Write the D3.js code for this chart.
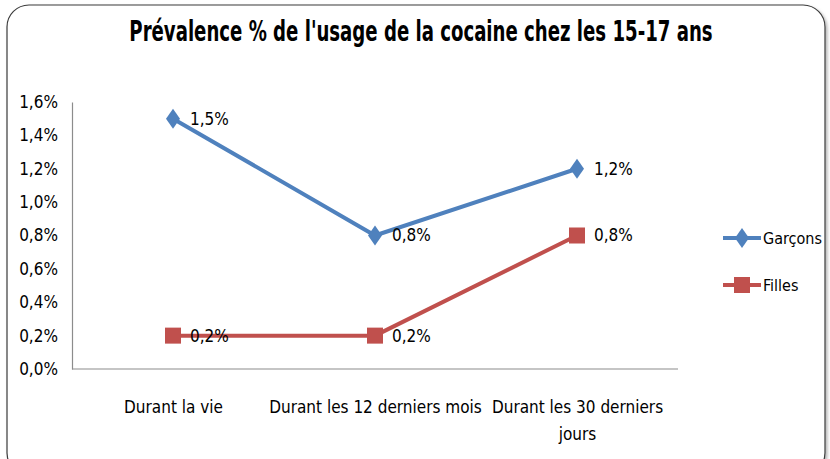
<!DOCTYPE html>
<html>
<head>
<meta charset="utf-8">
<script src="https://cdn.jsdelivr.net/npm/d3@7"></script>
<style>
  body { margin: 0; background: #fff; }
  svg text { font-family: "DejaVu Sans", sans-serif; font-stretch: condensed; fill: #000; }
</style>
</head>
<body>
<div id="chart"></div>
<script>
// Daten
const categories = ["Durant la vie", "Durant les 12 derniers mois", "Durant les 30 derniers jours"];
const garcons = [1.5, 0.8, 1.2];
const filles = [0.2, 0.2, 0.8];
const yTicks = [0, 0.2, 0.4, 0.6, 0.8, 1.0, 1.2, 1.4, 1.6];
const seriesNames = ["Garçons", "Filles"];

const width = 830, height = 459;
const margin = { top: 102, right: 152, bottom: 90, left: 72 };
const innerWidth = width - margin.left - margin.right;
const innerHeight = height - margin.top - margin.bottom;

const fmt = v => v.toFixed(1).replace(".", ",") + "%";

const svg = d3.select("#chart").append("svg")
  .attr("width", width)
  .attr("height", height);

// Rahmen mit Schatten
const defs = svg.append("defs");
const f = defs.append("filter").attr("id", "shadow").attr("x", "-5%").attr("y", "-5%").attr("width", "110%").attr("height", "110%");
f.append("feDropShadow").attr("dx", 2).attr("dy", 2).attr("stdDeviation", 1.5).attr("flood-color", "#888").attr("flood-opacity", 0.6);

svg.append("rect")
  .attr("x", 7).attr("y", 5)
  .attr("width", 818).attr("height", 470)
  .attr("rx", 22).attr("ry", 22)
  .attr("fill", "#fff")
  .attr("stroke", "#3a3a3a")
  .attr("stroke-width", 1.2)
  .attr("filter", "url(#shadow)");

// Titel (schmal gestaucht wie im Original)
svg.append("g")
  .attr("transform", "translate(421,41) scale(0.72,1)")
  .append("text")
    .attr("text-anchor", "middle")
    .style("font-size", "28px")
    .style("font-weight", "bold")
    .text("Prévalence % de l'usage de la cocaine chez les 15-17 ans");

const g = svg.append("g").attr("transform", `translate(${margin.left},${margin.top})`);

const x = d3.scalePoint().domain(categories).range([0, innerWidth]).padding(0.5);
const y = d3.scaleLinear().domain([0, 1.6]).range([innerHeight, 0]);

// Achsen
const yAxis = d3.axisLeft(y).tickValues(yTicks).tickFormat(fmt).tickSize(0).tickPadding(14);
const yg = g.append("g").call(yAxis);
yg.select(".domain").attr("stroke", "#8c8c8c").attr("stroke-width", 1.2);
yg.selectAll("text").style("font-size", "17px").attr("fill", "#000");

const xAxis = d3.axisBottom(x).tickSize(0).tickPadding(32);
const xg = g.append("g").attr("transform", `translate(0,${innerHeight})`).call(xAxis);
xg.select(".domain").attr("stroke", "#8c8c8c").attr("stroke-width", 1.2).attr("d", `M0,0H${innerWidth}`);
xg.selectAll("text").style("font-size", "17px").attr("fill", "#000")
  .each(function (d) {
    if (d === "Durant les 30 derniers jours") {
      const t = d3.select(this);
      t.text(null);
      t.append("tspan").attr("x", 0).text("Durant les 30 derniers");
      t.append("tspan").attr("x", 0).attr("dy", "1.6em").text("jours");
    }
  });

const series = [
  { name: seriesNames[0], values: garcons, color: "#4F81BD", shape: "diamond" },
  { name: seriesNames[1], values: filles, color: "#C0504D", shape: "square" }
];

const line = d3.line().x((d, i) => x(categories[i])).y(d => y(d));

function marker(sel, s) {
  if (s.shape === "diamond") {
    sel.append("path").attr("d", "M0,-10L7,0L0,10L-7,0Z").attr("fill", s.color);
  } else {
    sel.append("rect").attr("x", -8).attr("y", -8).attr("width", 16).attr("height", 16).attr("fill", s.color);
  }
}

series.forEach(s => {
  g.append("path")
    .datum(s.values)
    .attr("d", line)
    .attr("fill", "none")
    .attr("stroke", s.color)
    .attr("stroke-width", 4);

  s.values.forEach((v, i) => {
    const p = g.append("g").attr("transform", `translate(${x(categories[i])},${y(v)})`);
    marker(p, s);
    p.append("text")
      .attr("x", 17).attr("dy", "0.35em")
      .style("font-size", "17px")
      .text(fmt(v));
  });
});

// Legende
const legend = svg.append("g").attr("transform", "translate(723,238)");
series.forEach((s, i) => {
  const lg = legend.append("g").attr("transform", `translate(0,${i * 47})`);
  lg.append("line").attr("x1", 0).attr("x2", 38).attr("stroke", s.color).attr("stroke-width", 4);
  const m = lg.append("g").attr("transform", "translate(19,0)");
  marker(m, s);
  lg.append("text").attr("x", 40).attr("dy", "0.35em").style("font-size", "16px").text(s.name);
});
</script>
</body>
</html>
